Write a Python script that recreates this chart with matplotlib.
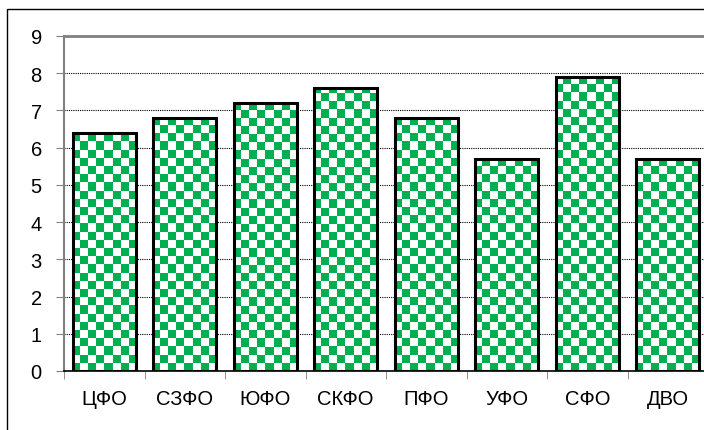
import numpy as np
import matplotlib
matplotlib.use("Agg")
import matplotlib.pyplot as plt
from matplotlib.patches import Rectangle

regions = ["ЦФО", "СЗФО", "ЮФО", "СКФО", "ПФО", "УФО", "СФО", "ДВО"]
values = [6.4, 6.8, 7.2, 7.6, 6.8, 5.7, 7.9, 5.7]
yticks = [0, 1, 2, 3, 4, 5, 6, 7, 8, 9]

plt.rcParams['font.family'] = ['Liberation Sans', 'DejaVu Sans']

fig = plt.figure(figsize=(7.04, 4.31), dpi=100)
# outer chart border
fig.patches.append(Rectangle((7/704, -0.05), 1.0, (431-10)/431 + 0.05,
                             transform=fig.transFigure, fill=False,
                             edgecolor='black', linewidth=1.0))

ax = fig.add_axes([64/704, 59/431, 644/704, 335/431])
x = np.arange(len(regions))
bars = ax.bar(x, values, width=0.78, facecolor='none', edgecolor='black',
              linewidth=2.2, zorder=3)

# checkerboard fill, ~8px squares
nx = int(644 / 8)
ny = int(335 / 8)
checker = (np.indices((ny, nx)).sum(axis=0) % 2).astype(float)
cmap = matplotlib.colors.ListedColormap(['white', '#00B050'])
for b in bars:
    im = ax.imshow(checker, extent=[-0.5, len(regions) - 0.5, 0, 9], origin='lower',
                   cmap=cmap, interpolation='nearest', aspect='auto', zorder=2)
    im.set_clip_path(b)
ax.set_xlim(-0.5, len(regions) - 0.5)
ax.set_ylim(0, 9)

ax.set_yticks(yticks)
ax.yaxis.grid(True, color='black', linestyle=(0, (1, 1)), linewidth=0.8)
ax.set_axisbelow(True)

ax.set_xticks(x)
ax.set_xticklabels(regions)
ax.set_xticks(np.arange(-0.5, len(regions)), minor=True)
ax.tick_params(axis='x', which='major', length=0, pad=13, labelsize=14.5)
ax.tick_params(axis='x', which='minor', length=6, color='#808080', direction='out')
ax.tick_params(axis='y', length=6, color='#808080', labelsize=14.5, pad=10)

ax.spines['left'].set_color('#808080')
ax.spines['left'].set_linewidth(1.5)
ax.spines['top'].set_color('#808080')
ax.spines['top'].set_linewidth(2)
ax.spines['bottom'].set_color('black')
ax.spines['bottom'].set_linewidth(1.2)
ax.spines['right'].set_visible(False)

fig.savefig("out.png", dpi=100)
